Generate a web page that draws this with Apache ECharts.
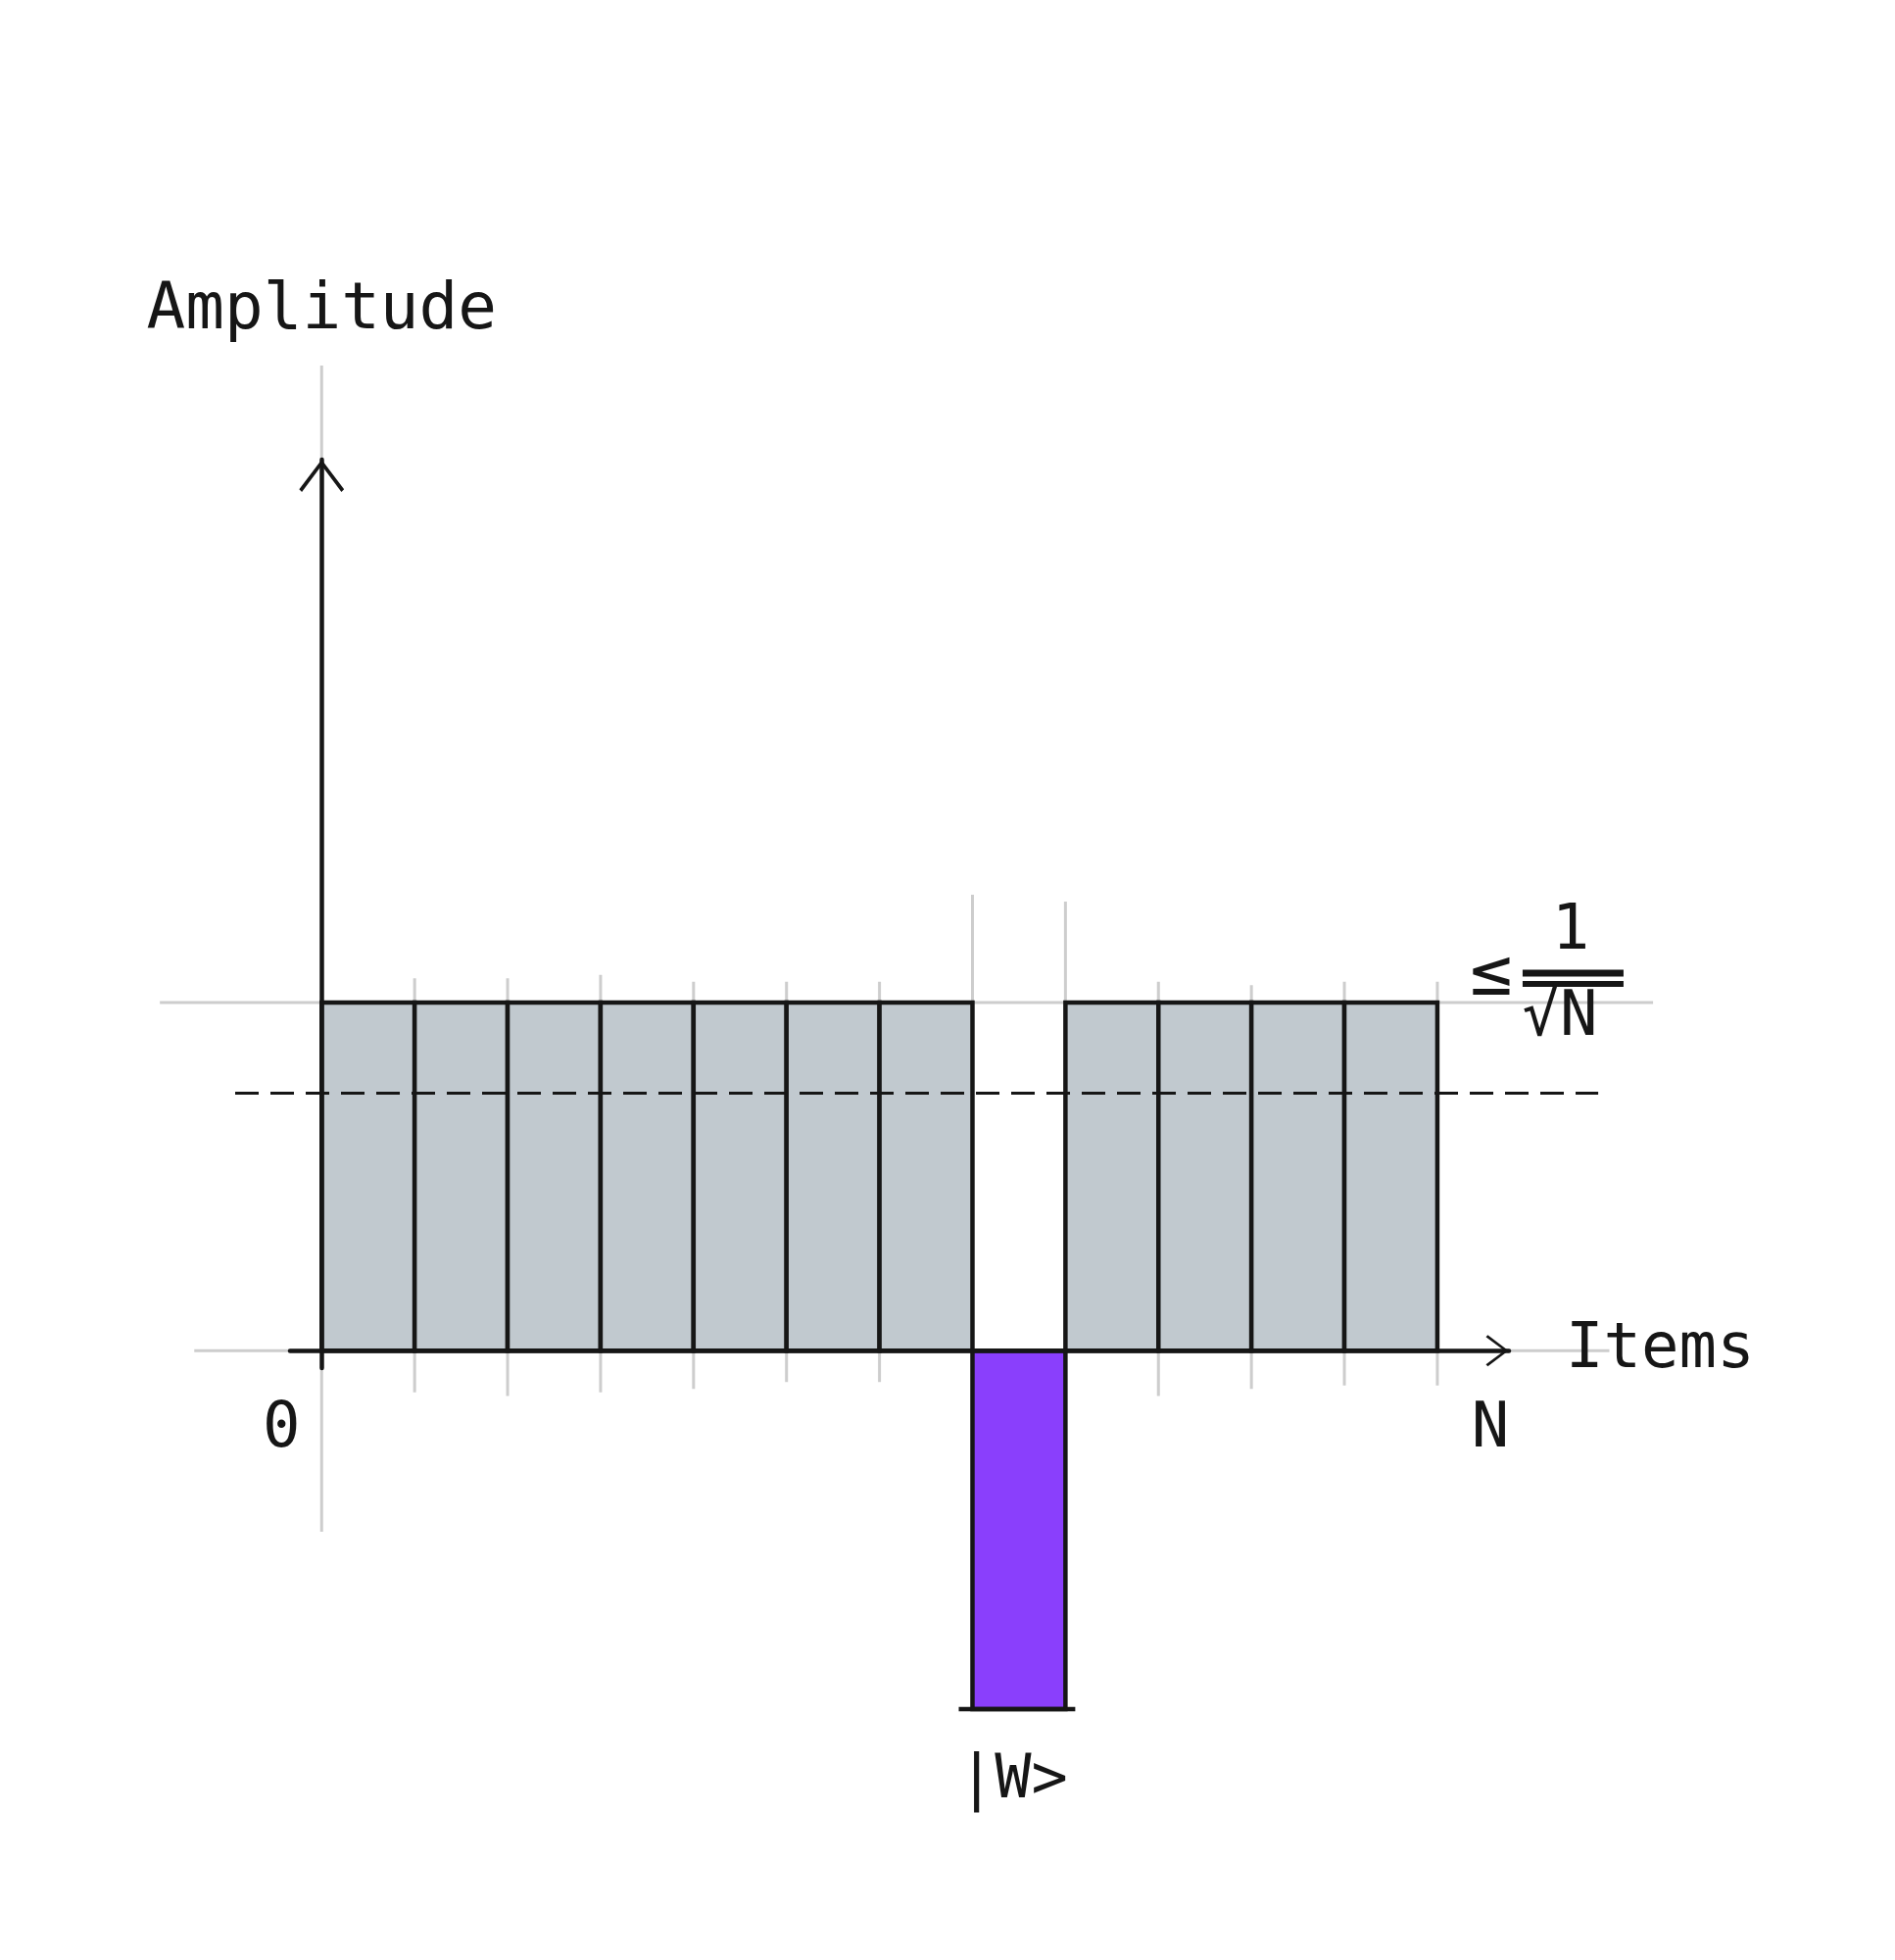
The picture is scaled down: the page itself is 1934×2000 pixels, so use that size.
<!DOCTYPE html>
<html>
<head>
<meta charset="utf-8">
<script src="https://cdn.jsdelivr.net/npm/echarts@6/dist/echarts.min.js"></script>
<style>
html, body { margin: 0; padding: 0; background: #fff; }
#main { width: 1934px; height: 2000px; }
</style>
</head>
<body>
<div id="main"></div>
<script>
// items 1..N, amplitude of each one (the marked item |W> is flipped)
var items = [1, 2, 3, 4, 5, 6, 7, 8, 9, 10, 11, 12];
var amplitudes = [1, 1, 1, 1, 1, 1, 1, -1.03, 1, 1, 1, 1];
var itemTags = ['', '', '', '', '', '', '', '|W>', '', '', '', ''];
var meanAmplitude = 0.74;
var xTickValues = [0, 12];
var xTickLabels = ['0', 'N'];

// light pencil guides at each item boundary (top / bottom, amplitude units)
var guideTop = [2.83, 1.07, 1.07, 1.08, 1.06, 1.06, 1.06, 1.31, 1.29, 1.06, 1.05, 1.06, 1.06];
var guideBottom = [-0.52, -0.12, -0.13, -0.12, -0.11, -0.09, -0.09, -0.9, -0.9, -0.13, -0.11, -0.1, -0.1];
// horizontal guides: [amplitude, from item, to item]
var guideRows = [[1, -1.74, 14.32], [0, -1.37, 13.85]];
// dashed mean line: [amplitude, from item, to item]
var meanRows = [[meanAmplitude, -0.93, 13.73]];

var ink = '#161616';
var barGray = '#c1c9cf';
var purple = '#8a3ffc';
var pencil = '#cdcdcd';
var mono = "'DejaVu Sans Mono', monospace";
// open arrow head, drawn pointing up
var chevron = 'path://M0,66 L50,0 L100,66 L94,72 L50,13 L6,72 Z';

var chart = echarts.init(document.getElementById('main'));

function renderBar(params, api) {
	var left = api.value(0) - 1;
	var v = api.value(1);
	var p0 = api.coord([left, 0]);
	var p1 = api.coord([left + 1, v]);
	var neg = v < 0;
	var kids = [{
		type: 'rect',
		shape: { x: p0[0], y: Math.min(p0[1], p1[1]), width: p1[0] - p0[0], height: Math.abs(p1[1] - p0[1]) },
		style: { fill: neg ? purple : barGray, stroke: ink, lineWidth: 4.5 }
	}];
	if (neg) {
		kids.push({
			type: 'line',
			shape: { x1: p0[0] - 14, y1: p1[1], x2: p1[0] + 10, y2: p1[1] },
			style: { stroke: ink, lineWidth: 4.5 }
		});
	}
	if (itemTags[params.dataIndex]) {
		kids.push({
			type: 'text',
			style: {
				text: itemTags[params.dataIndex],
				x: (p0[0] + p1[0]) / 2 - 6, y: Math.max(p0[1], p1[1]) + 74,
				align: 'center', verticalAlign: 'middle',
				fontSize: 62, fontFamily: mono, fill: ink
			}
		});
	}
	return { type: 'group', children: kids };
}

function renderVGuide(params, api) {
	var a = api.coord([api.value(0), api.value(1)]);
	var b = api.coord([api.value(0), api.value(2)]);
	return { type: 'line', shape: { x1: a[0], y1: a[1], x2: b[0], y2: b[1] }, style: { stroke: pencil, lineWidth: 3 } };
}

function hLine(stroke, width, dash) {
	return function (params, api) {
		var a = api.coord([api.value(1), api.value(0)]);
		var b = api.coord([api.value(2), api.value(0)]);
		return { type: 'line', shape: { x1: a[0], y1: a[1], x2: b[0], y2: b[1] }, style: { stroke: stroke, lineWidth: width, lineDash: dash } };
	};
}

// "≤ 1/√N" note next to the top level
function renderNote(params, api) {
	var p = api.coord([api.value(0), api.value(1)]);
	function txt(s, dx, dy, size) {
		return { type: 'text', style: { text: s, x: p[0] + dx, y: p[1] + dy, align: 'center', verticalAlign: 'middle', fontSize: size, fontFamily: mono, fill: ink } };
	}
	return {
		type: 'group',
		children: [
			txt('≤', 55, -27, 72),
			txt('1', 136, -72, 64),
			{ type: 'line', shape: { x1: p[0] + 87, y1: p[1] - 30, x2: p[0] + 190, y2: p[1] - 30 }, style: { stroke: ink, lineWidth: 7 } },
			{ type: 'line', shape: { x1: p[0] + 87, y1: p[1] - 19, x2: p[0] + 190, y2: p[1] - 19 }, style: { stroke: ink, lineWidth: 6 } },
			txt('√N', 125, 16, 64)
		]
	};
}

chart.setOption({
	backgroundColor: '#fff',
	animation: false,
	grid: { left: 296, right: 394, top: 469, bottom: 604 },
	xAxis: {
		type: 'value',
		min: -0.34,
		max: 12.77,
		z: 6,
		name: 'Items',
		nameLocation: 'end',
		nameGap: 58,
		nameTextStyle: { fontSize: 64, fontFamily: mono, color: ink, padding: [0, 0, 24, 0] },
		axisLine: {
			show: true, onZero: true,
			lineStyle: { color: ink, width: 4.5 },
			symbol: ['none', chevron], symbolSize: [32, 24], symbolOffset: [0, -12]
		},
		axisTick: { show: false },
		splitLine: { show: false },
		axisLabel: {
			customValues: xTickValues,
			margin: 31,
			fontSize: 64, fontFamily: mono, color: ink,
			formatter: function (v) {
				var k = xTickValues.indexOf(v);
				return k === 0 ? '{l|' + xTickLabels[k] + '}' : '{r|' + xTickLabels[k] + '}';
			},
			rich: {
				l: { fontSize: 64, fontFamily: mono, color: ink, padding: [0, 82, 0, 0] },
				r: { fontSize: 64, fontFamily: mono, color: ink, padding: [0, 0, 0, 108] }
			}
		}
	},
	yAxis: {
		type: 'value',
		min: -0.05,
		max: 2.56,
		z: 6,
		name: 'Amplitude',
		nameLocation: 'end',
		nameGap: 118,
		nameTextStyle: { fontSize: 66, fontFamily: mono, color: ink },
		axisLine: {
			show: true, onZero: true,
			lineStyle: { color: ink, width: 4.5 },
			symbol: ['none', chevron], symbolSize: [47, 33], symbolOffset: [0, -16.5]
		},
		axisTick: { show: false },
		axisLabel: { show: false },
		splitLine: { show: false }
	},
	series: [
		{
			type: 'custom', name: 'guides-v', z: 1, clip: false, silent: true,
			renderItem: renderVGuide,
			encode: { x: 0, y: [1, 2] },
			data: guideTop.map(function (t, k) { return [k, t, guideBottom[k]]; })
		},
		{
			type: 'custom', name: 'guides-h', z: 1, clip: false, silent: true,
			renderItem: hLine(pencil, 3, null),
			encode: { x: [1, 2], y: 0 },
			data: guideRows
		},
		{
			type: 'custom', name: 'amplitude', z: 3, clip: false,
			renderItem: renderBar,
			encode: { x: 0, y: 1 },
			data: items.map(function (d, i) { return [d, amplitudes[i]]; })
		},
		{
			type: 'custom', name: 'mean', z: 4, clip: false, silent: true,
			renderItem: hLine(ink, 3, [24, 12]),
			encode: { x: [1, 2], y: 0 },
			data: meanRows
		},
		{
			type: 'custom', name: 'bound', z: 4, clip: false, silent: true,
			renderItem: renderNote,
			encode: { x: 0, y: 1 },
			data: [[items.length, 1]]
		}
	]
});
</script>
</body>
</html>
